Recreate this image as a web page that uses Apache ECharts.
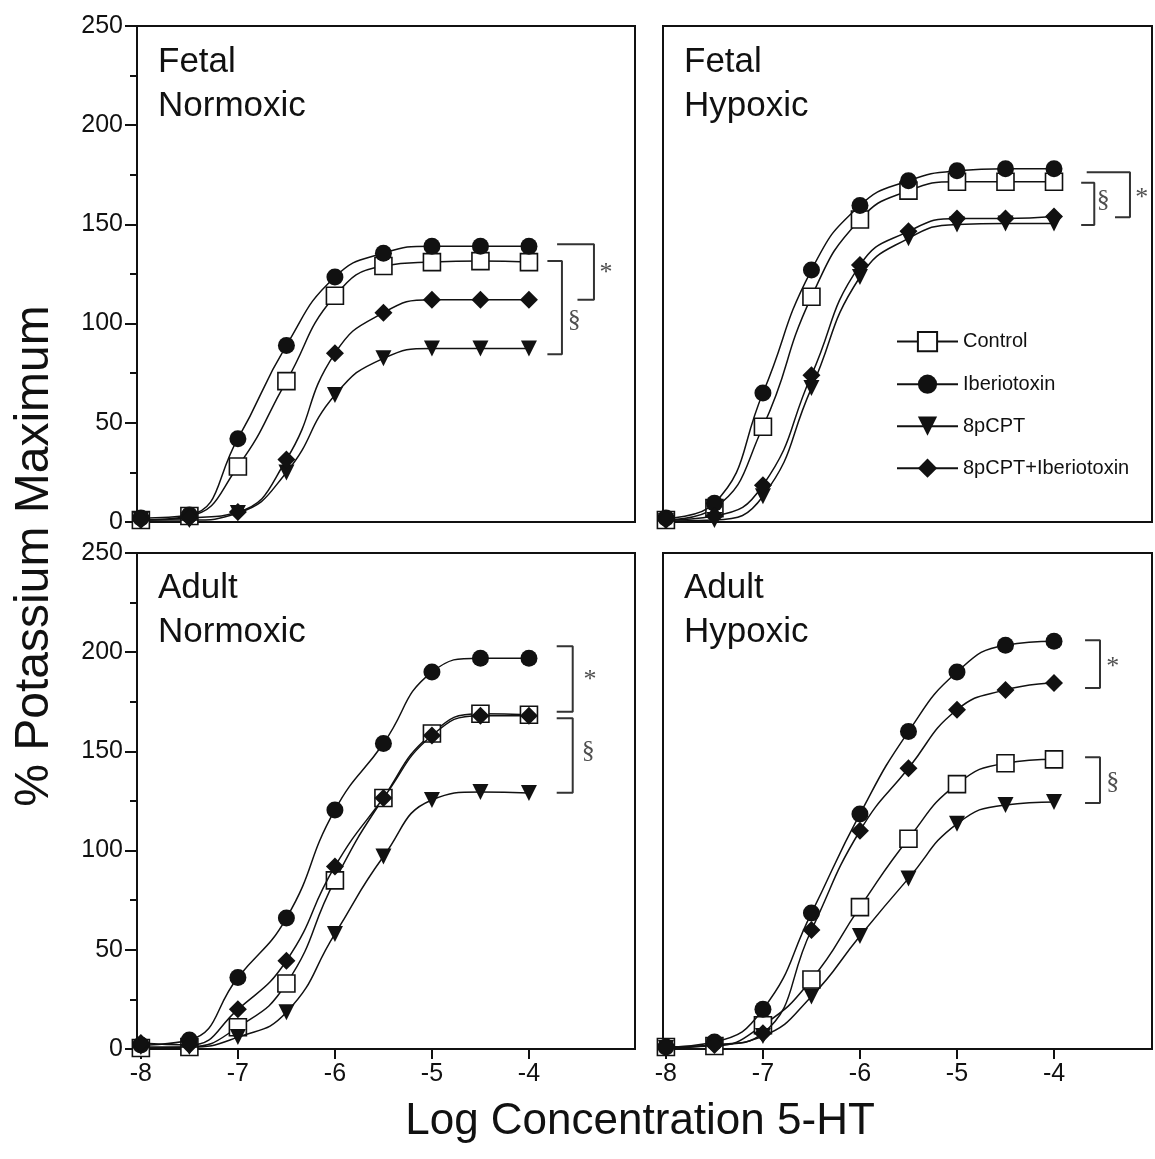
<!DOCTYPE html>
<html>
<head>
<meta charset="utf-8">
<script src="https://cdn.jsdelivr.net/npm/echarts@6/dist/echarts.min.js"></script>
<style>
  html, body { margin: 0; padding: 0; background: #fff; }
  #chart { width: 1155px; height: 1159px; }
</style>
</head>
<body>
<div id="chart"></div>
<script>
// Log molar concentrations of 5-HT
const logDose = [-8, -7.5, -7, -6.5, -6, -5.5, -5, -4.5, -4];
const xTickValues = [-8, -7, -6, -5, -4];
const treatments = ['Control', 'Iberiotoxin', '8pCPT', '8pCPT+Iberiotoxin'];
const panelTitles = ['Fetal\nNormoxic', 'Fetal\nHypoxic', 'Adult\nNormoxic', 'Adult\nHypoxic'];

// % of potassium maximum, one array per panel and treatment
const fetalNormoxicControl   = [1, 3, 28, 71, 114, 129, 131, 131.5, 131];
const fetalNormoxicIbtx      = [2, 3.5, 42, 89, 123.5, 135.5, 139, 139, 139];
const fetalNormoxic8pCPT     = [1, 1, 4.5, 25, 64, 82.5, 87.5, 87.5, 87.5];
const fetalNormoxic8pCPTIbtx = [1, 2, 5, 31.5, 85, 105.5, 112, 112, 112];

const fetalHypoxicControl    = [1, 7, 48, 113.5, 152.5, 167, 171.5, 171.5, 171.5];
const fetalHypoxicIbtx       = [2, 9.5, 65, 127, 159.5, 172, 177, 178, 178];
const fetalHypoxic8pCPT      = [0.5, 1, 13, 67.5, 123.5, 143, 150, 150.5, 150.5];
const fetalHypoxic8pCPTIbtx  = [1, 3, 18.5, 74, 129.5, 146.5, 153, 153, 154];

const adultNormoxicControl   = [0.5, 1, 11, 33, 85, 126.5, 159, 169, 168.5];
const adultNormoxicIbtx      = [2, 4.5, 36, 66, 120.5, 154, 190, 197, 197];
const adultNormoxic8pCPT     = [1, 1, 6, 18.5, 58, 97, 125.5, 129.5, 129];
const adultNormoxic8pCPTIbtx = [3, 2, 20, 44.5, 92, 126.5, 158, 168, 168];

const adultHypoxicControl    = [1, 1.5, 12, 35, 71.5, 106, 133.5, 144, 146];
const adultHypoxicIbtx       = [1, 3.5, 20, 68.5, 118.5, 160, 190, 203.5, 205.5];
const adultHypoxic8pCPT      = [0.5, 2, 6.5, 26.5, 57, 86, 113.5, 123, 124.5];
const adultHypoxic8pCPTIbtx  = [1, 2, 8, 60, 110, 141.5, 171, 181, 184.5];

const panelData = [
  [fetalNormoxicControl, fetalNormoxicIbtx, fetalNormoxic8pCPT, fetalNormoxic8pCPTIbtx],
  [fetalHypoxicControl, fetalHypoxicIbtx, fetalHypoxic8pCPT, fetalHypoxic8pCPTIbtx],
  [adultNormoxicControl, adultNormoxicIbtx, adultNormoxic8pCPT, adultNormoxic8pCPTIbtx],
  [adultHypoxicControl, adultHypoxicIbtx, adultHypoxic8pCPT, adultHypoxic8pCPTIbtx]
];

// Significance brackets (data units): open-sided brackets with a marker symbol
const brackets = [
  [
    { sign: '*', path: [[-3.71, 140], [-3.33, 140], [-3.33, 112], [-3.50, 112]], at: [-3.206, 125.5] },
    { sign: '§', path: [[-3.81, 131.5], [-3.66, 131.5], [-3.66, 84.5], [-3.81, 84.5]], at: [-3.533, 101.8] }
  ],
  [
    { sign: '§', path: [[-3.72, 171], [-3.585, 171], [-3.585, 149.7], [-3.72, 149.7]], at: [-3.492, 162.3] },
    { sign: '*', path: [[-3.663, 176.3], [-3.217, 176.3], [-3.217, 153.6], [-3.371, 153.6]], at: [-3.096, 163.2] }
  ],
  [
    { sign: '*', path: [[-3.714, 203], [-3.549, 203], [-3.549, 170], [-3.714, 170]], at: [-3.371, 186] },
    { sign: '§', path: [[-3.714, 166.7], [-3.549, 166.7], [-3.549, 129.2], [-3.714, 129.2]], at: [-3.389, 150] }
  ],
  [
    { sign: '*', path: [[-3.68, 206], [-3.526, 206], [-3.526, 182], [-3.68, 182]], at: [-3.395, 192.7] },
    { sign: '§', path: [[-3.68, 147], [-3.526, 147], [-3.526, 124], [-3.68, 124]], at: [-3.395, 134.7] }
  ]
];

const SANS = '"Liberation Sans", Arial, Helvetica, sans-serif';
const SERIF = '"Liberation Serif", "Times New Roman", serif';
const INK = '#111';

const markerStyles = [
  { symbol: 'rect', symbolSize: 17, symbolRotate: 0, itemStyle: { color: '#fff', borderColor: INK, borderWidth: 1.6 } },
  { symbol: 'circle', symbolSize: 17, symbolRotate: 0, itemStyle: { color: INK, borderColor: INK, borderWidth: 0 } },
  { symbol: 'triangle', symbolSize: 16, symbolRotate: 180, itemStyle: { color: INK, borderColor: INK, borderWidth: 0 } },
  { symbol: 'diamond', symbolSize: 18, symbolRotate: 0, itemStyle: { color: INK, borderColor: INK, borderWidth: 0 } }
];

const grids = [
  { left: 137, top: 26, width: 498, height: 496 },
  { left: 663, top: 26, width: 489, height: 496 },
  { left: 137, top: 553, width: 498, height: 496 },
  { left: 663, top: 553, width: 489, height: 496 }
];
const xRanges = [[-8.04, -2.907], [-8.03, -2.99], [-8.04, -2.907], [-8.03, -2.99]];

const chart = echarts.init(document.getElementById('chart'), null, { renderer: 'canvas' });

const xAxes = grids.map((g, p) => {
  const bottomRow = p >= 2;
  return {
    type: 'value', gridIndex: p, min: xRanges[p][0], max: xRanges[p][1],
    axisLine: { show: true, onZero: false, lineStyle: { color: INK, width: 2 } },
    axisTick: bottomRow
      ? { show: true, customValues: xTickValues, length: 10, lineStyle: { color: INK, width: 2 } }
      : { show: false },
    axisLabel: bottomRow
      ? { show: true, customValues: xTickValues, margin: 13, fontSize: 25, color: INK, fontFamily: SANS }
      : { show: false },
    splitLine: { show: false }
  };
});

const yAxes = grids.map((g, p) => {
  const leftCol = p % 2 === 0;
  return {
    type: 'value', gridIndex: p, min: 0, max: 250, interval: 50,
    axisLine: { show: true, lineStyle: { color: INK, width: 2 } },
    axisTick: { show: leftCol, length: 12, lineStyle: { color: INK, width: 2 } },
    minorTick: { show: leftCol, splitNumber: 2, length: 7, lineStyle: { color: INK, width: 2 } },
    axisLabel: { show: leftCol, margin: 14, fontSize: 25, color: INK, fontFamily: SANS },
    splitLine: { show: false }
  };
});

const series = [];
panelData.forEach((curves, p) => {
  curves.forEach((vals, s) => {
    const m = markerStyles[s];
    series.push({
      type: 'line', name: treatments[s], xAxisIndex: p, yAxisIndex: p,
      data: logDose.map((x, i) => [x, vals[i]]),
      smooth: 0.5,
      symbol: m.symbol, symbolSize: m.symbolSize, symbolRotate: m.symbolRotate,
      showAllSymbol: true,
      itemStyle: m.itemStyle,
      lineStyle: { color: INK, width: 1.5 },
      emphasis: { disabled: true },
      z: 3 + s
    });
  });
  brackets[p].forEach((b) => {
    series.push({
      type: 'line', name: 'bracket', xAxisIndex: p, yAxisIndex: p,
      data: b.path, symbol: 'none', smooth: false,
      lineStyle: { color: '#333', width: 2 }, silent: true, z: 2
    });
    series.push({
      type: 'scatter', name: 'sign', xAxisIndex: p, yAxisIndex: p,
      data: [b.at], symbol: 'circle', symbolSize: 1,
      itemStyle: { color: 'rgba(0,0,0,0)' },
      label: { show: true, position: 'inside', formatter: b.sign, fontSize: 26, color: '#222', fontFamily: SERIF },
      silent: true, z: 2
    });
  });
});

const titlePos = [[158, 40], [684, 40], [158, 566], [684, 566]];
const graphics = panelTitles.map((t, p) => ({
  type: 'text', left: titlePos[p][0], top: titlePos[p][1],
  style: { text: t, font: '35px ' + SANS, fill: INK, lineHeight: 44 }
}));
graphics.push({
  type: 'text', x: 35, y: 556, rotation: Math.PI / 2,
  style: { text: '% Potassium Maximum', font: '48px ' + SANS, fill: INK, align: 'center', verticalAlign: 'middle' }
});
graphics.push({
  type: 'text', x: 640, y: 1122,
  style: { text: 'Log Concentration 5-HT', font: '44px ' + SANS, fill: INK, align: 'center', verticalAlign: 'middle' }
});

chart.setOption({
  animation: false,
  backgroundColor: '#fff',
  grid: grids.map(g => Object.assign({ show: true, borderColor: INK, borderWidth: 2, backgroundColor: 'transparent' }, g)),
  xAxis: xAxes,
  yAxis: yAxes,
  legend: {
    data: treatments, orient: 'vertical', left: 896, top: 331, padding: 0,
    itemWidth: 61, itemHeight: 24, itemGap: 22,
    textStyle: { fontSize: 20, color: INK, fontFamily: SANS },
    selectedMode: false
  },
  series: series,
  graphic: graphics
});
</script>
</body>
</html>
